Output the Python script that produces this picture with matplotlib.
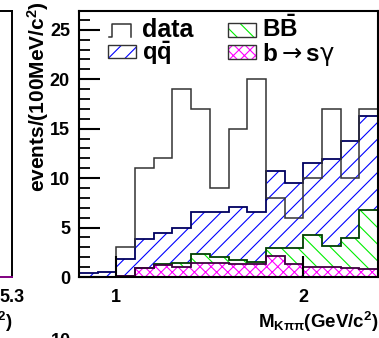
import numpy as np
import matplotlib
matplotlib.use("Agg")
import matplotlib.pyplot as plt
from matplotlib.patches import Rectangle
from matplotlib.ticker import MultipleLocator

plt.rcParams["font.family"] = ["Liberation Sans", "DejaVu Sans"]
plt.rcParams["font.weight"] = "bold"
plt.rcParams["mathtext.fontset"] = "custom"
plt.rcParams["mathtext.rm"] = "Liberation Sans:bold"
plt.rcParams["mathtext.bf"] = "Liberation Sans:bold"
plt.rcParams["mathtext.it"] = "Liberation Sans:bold"
plt.rcParams["mathtext.sf"] = "DejaVu Sans:normal"
plt.rcParams["hatch.linewidth"] = 0.8

# M_Kpipi bins, 100 MeV wide
edges = np.round(np.arange(0.8, 2.41, 0.1), 2)
data = [0, 0, 3, 11, 12, 19, 17, 9, 15, 20, 8, 6, 10, 17, 10, 17]
bsg = [0, 0, 0.1, 0.9, 1.25, 1.05, 1.45, 1.45, 1.3, 1.3, 2.1, 1.3, 1.0, 1.0, 0.9, 0.8]
bbbar = [0, 0, 0, 0, 0.1, 0.4, 0.85, 0.55, 0.4, 0.2, 0.8, 1.6, 3.25, 2.1, 3.0, 6.0]
qqbar = [0.4, 0.5, 1.7, 2.9, 3.15, 3.55, 4.3, 4.6, 5.4, 5.1, 7.8, 6.6, 7.25, 8.8, 9.9, 9.5]

lvl_bsg = np.array(bsg)
lvl_bb = lvl_bsg + np.array(bbbar)
lvl_qq = lvl_bb + np.array(qqbar)

fig = plt.figure(figsize=(3.79, 3.38), dpi=100)
W, H = 379.0, 338.0

# bit of the neighbouring panel on the left
axl = fig.add_axes([-0.5, 1 - 277 / H, 0.5 + 12 / W, 266 / H])
axl.set_xlim(4.5, 5.3)
axl.set_ylim(0, 27)
axl.set_xticks([5.3])
axl.set_xticklabels(["5.3"])
axl.set_yticks([])
axl.tick_params(axis="x", direction="in", length=0, labelsize=13, pad=9)
for s in axl.spines.values():
    s.set_linewidth(1.4)
axl.spines["bottom"].set_color("#800080")

ax = fig.add_axes([79 / W, 1 - 277 / H, 299 / W, 266 / H])

ax.stairs(lvl_qq, edges, baseline=lvl_bb, fill=True, facecolor="white",
          edgecolor="#0000ff", hatch="//", linewidth=0)
ax.stairs(lvl_bb, edges, baseline=lvl_bsg, fill=True, facecolor="white",
          edgecolor="#00ee00", hatch="\\\\", linewidth=0)
ax.stairs(lvl_bsg, edges, baseline=0, fill=True, facecolor="white",
          edgecolor="#ff00ff", hatch="xxx", linewidth=0)

ax.stairs(lvl_qq, edges, baseline=0, color="#000060", linewidth=1.3)
ax.stairs(lvl_bb, edges, baseline=0, color="#004000", linewidth=1.3)
ax.stairs(lvl_bsg, edges, baseline=0, color="#400040", linewidth=1.3)
ax.stairs(data, edges, baseline=0, color="#333333", linewidth=1.1)

ax.set_xlim(0.8, 2.4)
ax.set_ylim(0, 26.9)
ax.set_xticks([1, 2])
ax.set_xticklabels(["1", "2"])
ax.yaxis.set_major_locator(MultipleLocator(5))
ax.yaxis.set_minor_locator(MultipleLocator(1))
ax.tick_params(axis="both", which="major", direction="in", length=15,
               width=1.5, labelsize=13)
ax.tick_params(axis="y", which="minor", direction="in", length=8, width=1.3)
ax.tick_params(axis="y", which="major", pad=6.5)
ax.tick_params(axis="x", which="major", pad=9)
for s in ax.spines.values():
    s.set_linewidth(1.5)

# legend, drawn by hand ROOT style
ax.plot([0.1003, 0.1114, 0.1114, 0.1729, 0.1729],
        [0.9034, 0.9034, 0.9511, 0.9511, 0.9034],
        transform=ax.transAxes, color="#333333", lw=1.1, clip_on=False)
ax.add_patch(Rectangle((0.098, 0.8222), 0.0916, 0.05, transform=ax.transAxes,
                       facecolor="white", edgecolor="#0000ff", hatch="//", lw=0))
ax.add_patch(Rectangle((0.098, 0.8222), 0.0916, 0.05, transform=ax.transAxes,
                       fill=False, edgecolor="#333333", lw=1.0))
ax.add_patch(Rectangle((0.4993, 0.9011), 0.0926, 0.0527, transform=ax.transAxes,
                       facecolor="white", edgecolor="#00ee00", hatch="\\\\", lw=0))
ax.add_patch(Rectangle((0.4993, 0.9011), 0.0926, 0.0527, transform=ax.transAxes,
                       fill=False, edgecolor="#333333", lw=1.0))
ax.add_patch(Rectangle((0.4993, 0.8195), 0.0926, 0.0527, transform=ax.transAxes,
                       facecolor="white", edgecolor="#ff00ff", hatch="xxx", lw=0))
ax.add_patch(Rectangle((0.4993, 0.8195), 0.0926, 0.0527, transform=ax.transAxes,
                       fill=False, edgecolor="#333333", lw=1.0))

ax.text(0.2117, 0.9034, "data", transform=ax.transAxes, fontsize=18,
        fontweight="bold", va="baseline")
ax.text(0.2117, 0.815, r"$\mathbf{q\bar{q}}$", transform=ax.transAxes,
        fontsize=17, va="baseline")
ax.text(0.613, 0.9011, r"$\mathbf{B\bar{B}}$", transform=ax.transAxes,
        fontsize=17.5, va="baseline")
ax.text(0.613, 0.812, r"$\mathbf{b}\mathsf{\rightarrow}\mathbf{s}\mathsf{\gamma}$",
        transform=ax.transAxes, fontsize=17.5, va="baseline")

fig.text(38 / W, 1 - 97 / H, r"$\mathbf{events/(100MeV/c^{2})}$",
         rotation=90, ha="center", va="center", fontsize=15)
fig.text(378 / W, 1 - 322 / H, r"$\mathbf{M_{K\pi\pi}(GeV/c^{2})}$",
         ha="right", va="center", fontsize=13.5)
# cut-off labels belonging to the neighbouring panels
fig.text(13 / W, 1 - 322 / H, r"$\mathbf{(GeV/c^{2})}$",
         ha="right", va="center", fontsize=13.5)
fig.text(61 / W, 1 - 333 / H, "10", ha="center", va="top", fontsize=13,
         fontweight="bold")

plt.savefig("out.png", dpi=100)
